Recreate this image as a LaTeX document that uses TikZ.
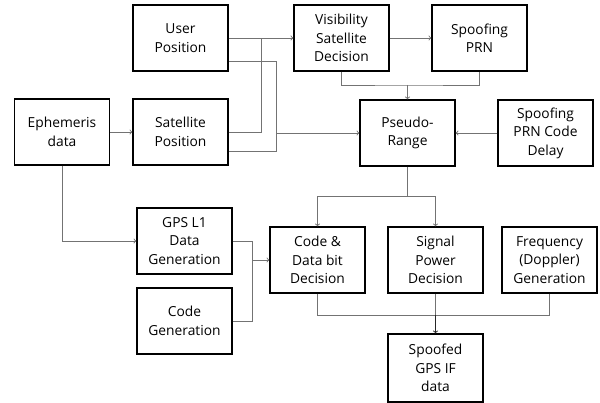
\documentclass[tikz,border=0pt]{standalone}
\usepackage{fontspec}
\setmainfont{Open Sans}
\usepackage{tikz}

\begin{document}
\begin{tikzpicture}[x=1pt,y=-1pt]
\tikzstyle{every node}=[font=\fontsize{13.8}{18.5}\selectfont];
\tikzstyle{blk}=[draw,line width=1.4pt,minimum width=95pt,minimum height=66pt,align=center,inner sep=0pt];
\tikzstyle{ln}=[draw=black!55,line width=0.9pt];
\tikzstyle{arr}=[ln,->];
\useasboundingbox (0,0) rectangle (600,403);
% top rows
\path (180.5,38) node[blk] (user) {User\\Position};
\path (341.5,38) node[blk] (vis) {Visibility\\Satellite\\Decision};
\path (479.5,38) node[blk] (prn) {Spoofing\\PRN};
\path (62,132) node[blk] (eph) {Ephemeris\\data};
\path (180.5,132) node[blk] (satpos) {Satellite\\Position};
\path (407.5,133) node[blk] (pseudo) {Pseudo-\\Range};
\path (545.5,133) node[blk] (delay) {Spoofing\\PRN Code\\Delay};
% lower rows
\path (184.5,241) node[blk] (gpsl1) {GPS L1\\Data\\Generation};
\path (184.5,321) node[blk] (codegen) {Code\\Generation};
\path (317.5,260) node[blk] (codedata) {Code \&\\Data bit\\Decision};
\path (435.5,260) node[blk] (sigpow) {Signal\\Power\\Decision};
\path (549.5,260) node[blk] (freq) {Frequency\\(Doppler)\\Generation};
\path (435.5,368) node[blk,minimum height=68pt] (spoofed) {Spoofed\\GPS IF\\data};
% junctions
\coordinate (j1) at (261,38);
\coordinate (j2) at (276,133);
\coordinate (j3) at (252,260);
\coordinate (j4) at (407.5,85);
\coordinate (j5) at (407.5,196);
\coordinate (j6) at (435.5,315);
% connectors
\draw[arr] (user.east) -- (vis.west);
\draw[ln] (satpos.east) -| (j1);
\draw[ln] ([yshift=-23pt]user.east) -| (j2);
\draw[ln] ([yshift=-19pt]satpos.east) -| (j2);
\draw[arr] (j2) -- (pseudo.west);
\draw[arr] (eph) -- (satpos);
\draw[arr] (eph.south) |- (gpsl1.west);
\draw[ln] (gpsl1.east) -| (j3);
\draw[ln] (codegen.east) -| (j3);
\draw[arr] (j3) -- (codedata.west);
\draw[arr] (vis.east) -- (prn.west);
\draw[ln] (vis.south) |- (j4) -| (prn.south);
\draw[arr] (j4) -- (pseudo.north);
\draw[arr] (delay.west) -- (pseudo.east);
\draw[ln] (pseudo.south) -- (j5);
\draw[arr] (j5) -| (codedata.north);
\draw[arr] (j5) -| (sigpow.north);
\draw[ln] (codedata.south) |- (j6);
\draw[ln] (freq.south) |- (j6);
\draw[ln] (sigpow.south) -- (j6);
\draw[arr,draw=black!85] (j6) -- (spoofed.north);
\end{tikzpicture}
\end{document}
